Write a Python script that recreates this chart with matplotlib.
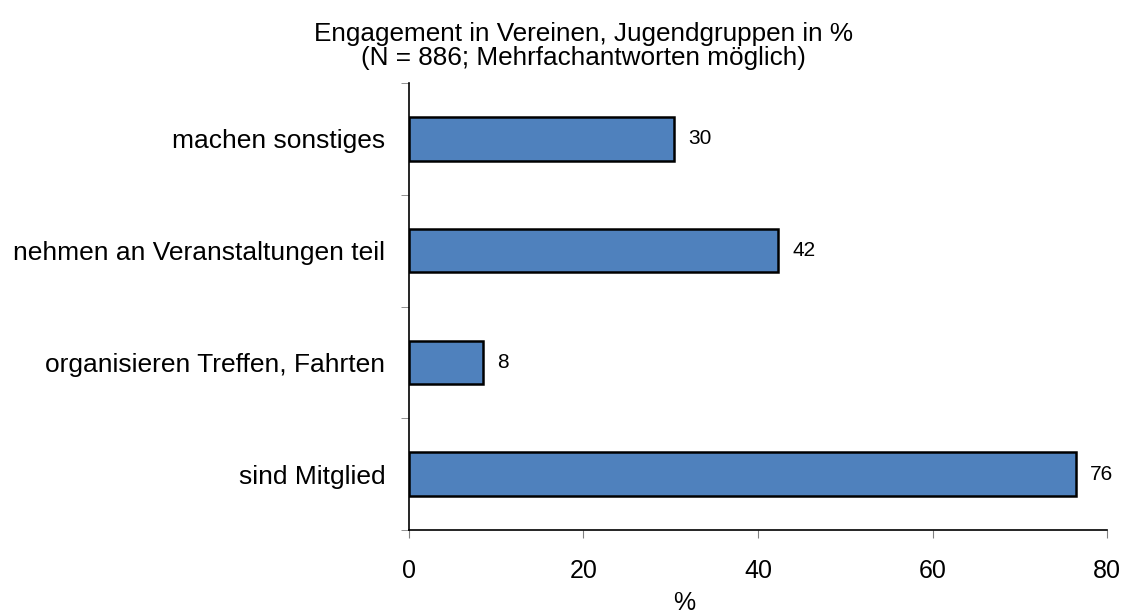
import matplotlib.pyplot as plt
import numpy as np

plt.rcParams['font.family'] = ['Liberation Sans', 'DejaVu Sans']

categories = ['sind Mitglied', 'organisieren Treffen, Fahrten',
              'nehmen an Veranstaltungen teil', 'machen sonstiges']
values = [76.4, 8.5, 42.3, 30.4]
labels = ['76', '8', '42', '30']
xticks = [0, 20, 40, 60, 80]

fig = plt.figure(figsize=(11.31, 6.15), dpi=100)
ax = fig.add_axes([0.3616, 0.1382, 0.6172, 0.7268])

pos = np.arange(len(categories))
ax.barh(pos, values, height=0.39, color='#4F81BD', edgecolor='black', linewidth=1.8)
for p, v, t in zip(pos, values, labels):
    ax.text(v + 1.6, p, t, va='center', ha='left', fontsize=15)

ax.set_xlim(0, 80)
ax.set_ylim(-0.5, len(categories) - 0.5)
ax.set_xticks(xticks)
ax.set_xticklabels([str(t) for t in xticks], fontsize=18)
ax.set_yticks(pos)
ax.set_yticklabels(categories, fontsize=19)
ax.set_yticks(np.arange(-0.5, len(categories)), minor=True)

ax.tick_params(axis='y', which='major', length=0, pad=17)
ax.tick_params(axis='y', which='minor', length=6, color='gray', direction='out')
ax.tick_params(axis='x', length=6, color='gray', direction='out', pad=15)
for s in ['top', 'right']:
    ax.spines[s].set_visible(False)
ax.spines['left'].set_linewidth(1.2)
ax.spines['bottom'].set_linewidth(1.2)

fig.text(0.5155, 1 - 34 / 615, 'Engagement in Vereinen, Jugendgruppen in %',
         ha='center', va='center', fontsize=18.8)
fig.text(0.5155, 1 - 58 / 615, '(N = 886; Mehrfachantworten möglich)',
         ha='center', va='center', fontsize=18.8)
fig.text(684 / 1131, 1 - 603 / 615, '%', ha='center', va='center', fontsize=18)

plt.savefig('out.png', dpi=100)
